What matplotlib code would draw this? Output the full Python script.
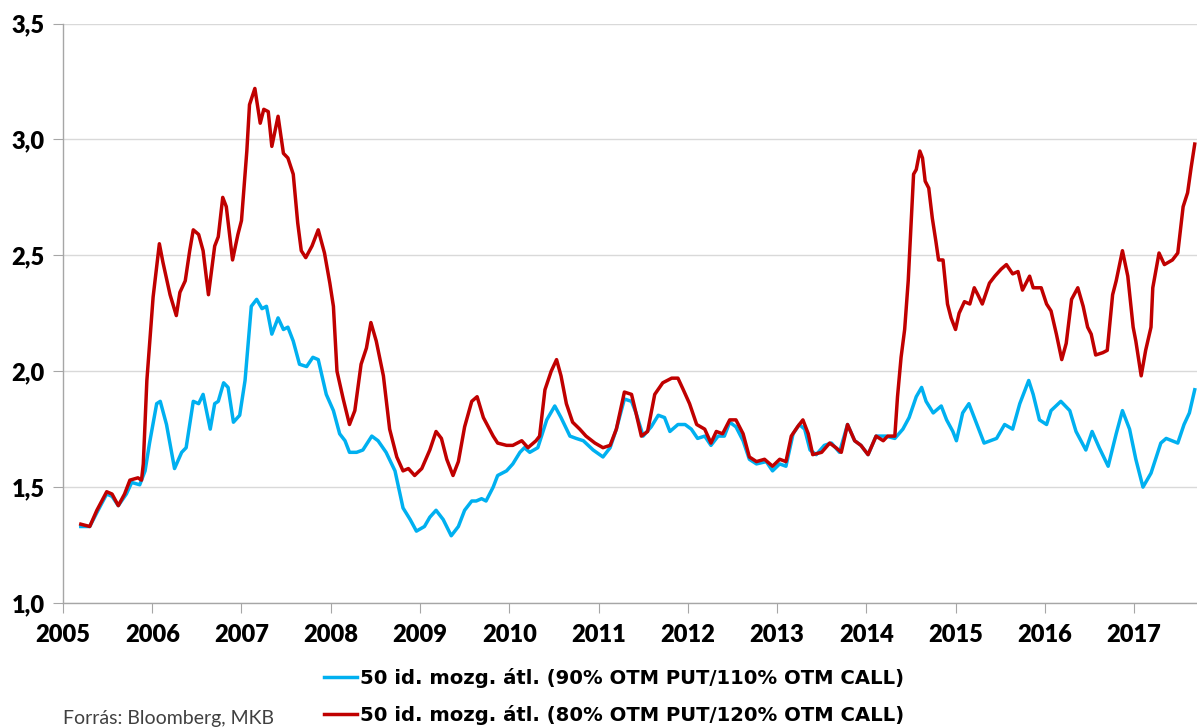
import matplotlib.pyplot as plt

# 50 napos mozgoatlag, 80% OTM PUT / 120% OTM CALL (piros)
red_x = [2005.20, 2005.30, 2005.38, 2005.49, 2005.55, 2005.62, 2005.69, 2005.75, 2005.84, 2005.88,
         2005.90, 2005.94, 2006.01, 2006.08, 2006.12, 2006.20, 2006.27, 2006.31, 2006.37, 2006.42,
         2006.46, 2006.52, 2006.57, 2006.63, 2006.70, 2006.74, 2006.79, 2006.83, 2006.90, 2006.96,
         2007.00, 2007.06, 2007.09, 2007.15, 2007.21, 2007.25, 2007.30, 2007.34, 2007.41, 2007.47,
         2007.52, 2007.58, 2007.63, 2007.67, 2007.72, 2007.79, 2007.86, 2007.93, 2007.99, 2008.03,
         2008.07, 2008.14, 2008.21, 2008.27, 2008.34, 2008.40, 2008.45, 2008.51, 2008.59, 2008.66,
         2008.74, 2008.81, 2008.87, 2008.94, 2009.02, 2009.11, 2009.18, 2009.24, 2009.30, 2009.37,
         2009.43, 2009.50, 2009.58, 2009.64, 2009.71, 2009.82, 2009.87, 2009.97, 2010.04, 2010.14,
         2010.21, 2010.30, 2010.34, 2010.40, 2010.47, 2010.53, 2010.58, 2010.64, 2010.71, 2010.79,
         2010.86, 2010.96, 2011.05, 2011.13, 2011.20, 2011.29, 2011.37, 2011.42, 2011.48, 2011.55,
         2011.63, 2011.72, 2011.82, 2011.89, 2011.95, 2012.02, 2012.10, 2012.19, 2012.26, 2012.32,
         2012.39, 2012.47, 2012.54, 2012.62, 2012.69, 2012.77, 2012.86, 2012.95, 2013.03, 2013.10,
         2013.16, 2013.23, 2013.29, 2013.35, 2013.40, 2013.50, 2013.59, 2013.66, 2013.72, 2013.79,
         2013.87, 2013.94, 2014.02, 2014.11, 2014.19, 2014.24, 2014.32, 2014.35, 2014.39, 2014.43,
         2014.47, 2014.50, 2014.53, 2014.56, 2014.60, 2014.63, 2014.66, 2014.70, 2014.74, 2014.78,
         2014.81, 2014.86, 2014.91, 2014.95, 2015.00, 2015.04, 2015.10, 2015.16, 2015.21, 2015.25,
         2015.30, 2015.38, 2015.44, 2015.51, 2015.57, 2015.64, 2015.70, 2015.75, 2015.83, 2015.87,
         2015.96, 2016.02, 2016.07, 2016.13, 2016.19, 2016.24, 2016.30, 2016.37, 2016.43, 2016.48,
         2016.52, 2016.57, 2016.65, 2016.70, 2016.76, 2016.80, 2016.87, 2016.93, 2016.99, 2017.02,
         2017.08, 2017.13, 2017.19, 2017.21, 2017.28, 2017.34, 2017.43, 2017.49, 2017.55, 2017.60,
         2017.64, 2017.68]
red_y = [1.34, 1.33, 1.40, 1.48, 1.47, 1.42, 1.47, 1.53, 1.54, 1.53,
         1.60, 1.96, 2.32, 2.55, 2.47, 2.33, 2.24, 2.34, 2.39, 2.52,
         2.61, 2.59, 2.52, 2.33, 2.54, 2.58, 2.75, 2.71, 2.48, 2.59,
         2.65, 2.95, 3.15, 3.22, 3.07, 3.13, 3.12, 2.97, 3.10, 2.94,
         2.92, 2.85, 2.64, 2.52, 2.49, 2.54, 2.61, 2.51, 2.38, 2.28,
         2.00, 1.88, 1.77, 1.83, 2.03, 2.10, 2.21, 2.13, 1.98, 1.75,
         1.63, 1.57, 1.58, 1.55, 1.58, 1.66, 1.74, 1.71, 1.62, 1.55,
         1.61, 1.76, 1.87, 1.89, 1.80, 1.72, 1.69, 1.68, 1.68, 1.70,
         1.67, 1.70, 1.72, 1.92, 2.00, 2.05, 1.98, 1.86, 1.78, 1.75,
         1.72, 1.69, 1.67, 1.68, 1.75, 1.91, 1.90, 1.82, 1.72, 1.74,
         1.90, 1.95, 1.97, 1.97, 1.92, 1.86, 1.77, 1.75, 1.69, 1.74,
         1.73, 1.79, 1.79, 1.73, 1.63, 1.61, 1.62, 1.59, 1.62, 1.61,
         1.72, 1.76, 1.79, 1.73, 1.64, 1.65, 1.69, 1.67, 1.65, 1.77,
         1.70, 1.68, 1.64, 1.72, 1.70, 1.72, 1.72, 1.89, 2.06, 2.18,
         2.39, 2.62, 2.85, 2.87, 2.95, 2.92, 2.82, 2.79, 2.66, 2.56,
         2.48, 2.48, 2.29, 2.23, 2.18, 2.25, 2.30, 2.29, 2.36, 2.33,
         2.29, 2.38, 2.41, 2.44, 2.46, 2.42, 2.43, 2.35, 2.41, 2.36,
         2.36, 2.29, 2.26, 2.16, 2.05, 2.12, 2.31, 2.36, 2.28, 2.19,
         2.16, 2.07, 2.08, 2.09, 2.33, 2.39, 2.52, 2.41, 2.19, 2.13,
         1.98, 2.09, 2.19, 2.36, 2.51, 2.46, 2.48, 2.51, 2.71, 2.77,
         2.88, 2.98]

# 50 napos mozgoatlag, 90% OTM PUT / 110% OTM CALL (kek)
blue_x = [2005.20, 2005.30, 2005.38, 2005.49, 2005.55, 2005.62, 2005.71, 2005.77, 2005.86, 2005.92,
          2005.97, 2006.05, 2006.09, 2006.16, 2006.25, 2006.33, 2006.38, 2006.46, 2006.52, 2006.57,
          2006.65, 2006.70, 2006.74, 2006.80, 2006.85, 2006.91, 2006.98, 2007.04, 2007.11, 2007.17,
          2007.23, 2007.28, 2007.34, 2007.41, 2007.47, 2007.52, 2007.58, 2007.65, 2007.73, 2007.80,
          2007.86, 2007.95, 2008.03, 2008.10, 2008.16, 2008.21, 2008.29, 2008.36, 2008.46, 2008.53,
          2008.62, 2008.72, 2008.81, 2008.89, 2008.96, 2009.05, 2009.11, 2009.18, 2009.26, 2009.35,
          2009.43, 2009.50, 2009.58, 2009.63, 2009.69, 2009.74, 2009.82, 2009.87, 2009.97, 2010.04,
          2010.12, 2010.17, 2010.23, 2010.32, 2010.42, 2010.51, 2010.58, 2010.68, 2010.75, 2010.83,
          2010.94, 2011.05, 2011.13, 2011.20, 2011.29, 2011.37, 2011.42, 2011.50, 2011.59, 2011.67,
          2011.74, 2011.80, 2011.89, 2011.97, 2012.04, 2012.11, 2012.19, 2012.26, 2012.34, 2012.41,
          2012.47, 2012.54, 2012.62, 2012.69, 2012.77, 2012.88, 2012.95, 2013.03, 2013.10, 2013.18,
          2013.25, 2013.31, 2013.37, 2013.44, 2013.53, 2013.61, 2013.70, 2013.79, 2013.87, 2013.94,
          2014.02, 2014.11, 2014.22, 2014.32, 2014.41, 2014.48, 2014.56, 2014.62, 2014.67, 2014.75,
          2014.84, 2014.90, 2014.97, 2015.01, 2015.08, 2015.15, 2015.21, 2015.32, 2015.46, 2015.55,
          2015.64, 2015.72, 2015.82, 2015.87, 2015.94, 2016.02, 2016.07, 2016.18, 2016.28, 2016.35,
          2016.46, 2016.53, 2016.61, 2016.71, 2016.80, 2016.87, 2016.95, 2017.02, 2017.10, 2017.19,
          2017.30, 2017.36, 2017.49, 2017.56, 2017.62, 2017.68]
blue_y = [1.33, 1.33, 1.39, 1.47, 1.46, 1.42, 1.47, 1.52, 1.51, 1.57,
          1.69, 1.86, 1.87, 1.77, 1.58, 1.65, 1.67, 1.87, 1.86, 1.90,
          1.75, 1.86, 1.87, 1.95, 1.93, 1.78, 1.81, 1.96, 2.28, 2.31,
          2.27, 2.28, 2.16, 2.23, 2.18, 2.19, 2.13, 2.03, 2.02, 2.06,
          2.05, 1.90, 1.83, 1.73, 1.70, 1.65, 1.65, 1.66, 1.72, 1.70,
          1.65, 1.57, 1.41, 1.36, 1.31, 1.33, 1.37, 1.40, 1.36, 1.29,
          1.33, 1.40, 1.44, 1.44, 1.45, 1.44, 1.50, 1.55, 1.57, 1.60,
          1.65, 1.67, 1.65, 1.67, 1.79, 1.85, 1.80, 1.72, 1.71, 1.70,
          1.66, 1.63, 1.67, 1.75, 1.88, 1.87, 1.82, 1.72, 1.76, 1.81,
          1.80, 1.74, 1.77, 1.77, 1.75, 1.71, 1.72, 1.68, 1.72, 1.72,
          1.78, 1.76, 1.70, 1.62, 1.60, 1.61, 1.57, 1.60, 1.59, 1.73,
          1.77, 1.75, 1.66, 1.64, 1.68, 1.69, 1.65, 1.77, 1.70, 1.68,
          1.64, 1.72, 1.72, 1.71, 1.75, 1.80, 1.89, 1.93, 1.87, 1.82,
          1.85, 1.79, 1.74, 1.70, 1.82, 1.86, 1.80, 1.69, 1.71, 1.77,
          1.75, 1.86, 1.96, 1.90, 1.79, 1.77, 1.83, 1.87, 1.83, 1.74,
          1.66, 1.74, 1.67, 1.59, 1.73, 1.83, 1.75, 1.62, 1.50, 1.56,
          1.69, 1.71, 1.69, 1.77, 1.82, 1.92]

years = list(range(2005, 2018))
y_ticks = [1.0, 1.5, 2.0, 2.5, 3.0, 3.5]
labels = ["50 id. mozg. átl. (90% OTM PUT/110% OTM CALL)",
          "50 id. mozg. átl. (80% OTM PUT/120% OTM CALL)"]

plt.rcParams['font.family'] = ['Lato', 'DejaVu Sans']

fig = plt.figure(figsize=(11.97, 7.27), dpi=100)
ax = fig.add_axes([0.0526, 0.1706, 0.947, 0.797])

ax.plot(blue_x, blue_y, color="#00B0F0", lw=2.5, label=labels[0])
ax.plot(red_x, red_y, color="#C00000", lw=2.5, label=labels[1])

ax.set_xlim(2005, 2017.70)
ax.set_ylim(1.0, 3.5)
ax.set_xticks(years)
ax.set_xticklabels([str(y) for y in years], fontsize=17, fontweight="heavy")
ax.set_yticks(y_ticks)
ax.set_yticklabels([f"{v:.1f}".replace(".", ",") for v in y_ticks], fontsize=17, fontweight="heavy")

ax.grid(axis="y", color="#d9d9d9", lw=1)
ax.set_axisbelow(True)
for s in ["top", "right"]:
    ax.spines[s].set_visible(False)
for s in ["left", "bottom"]:
    ax.spines[s].set_color("#a6a6a6")
    ax.spines[s].set_linewidth(1)
ax.tick_params(axis="both", direction="out", length=7, color="#a6a6a6")
ax.tick_params(axis="x", pad=8)
ax.tick_params(axis="y", pad=6)

fig.legend(loc="center", bbox_to_anchor=(0.513, 0.042), frameon=False,
           prop={"family": "DejaVu Sans", "size": 14.1, "weight": "bold"},
           handlelength=1.7, handletextpad=0.15, labelspacing=0.9)
fig.text(0.053, 0.012, "Forrás: Bloomberg, MKB", fontsize=14, color="#404040", va="center")

fig.savefig("out.png", dpi=100)
